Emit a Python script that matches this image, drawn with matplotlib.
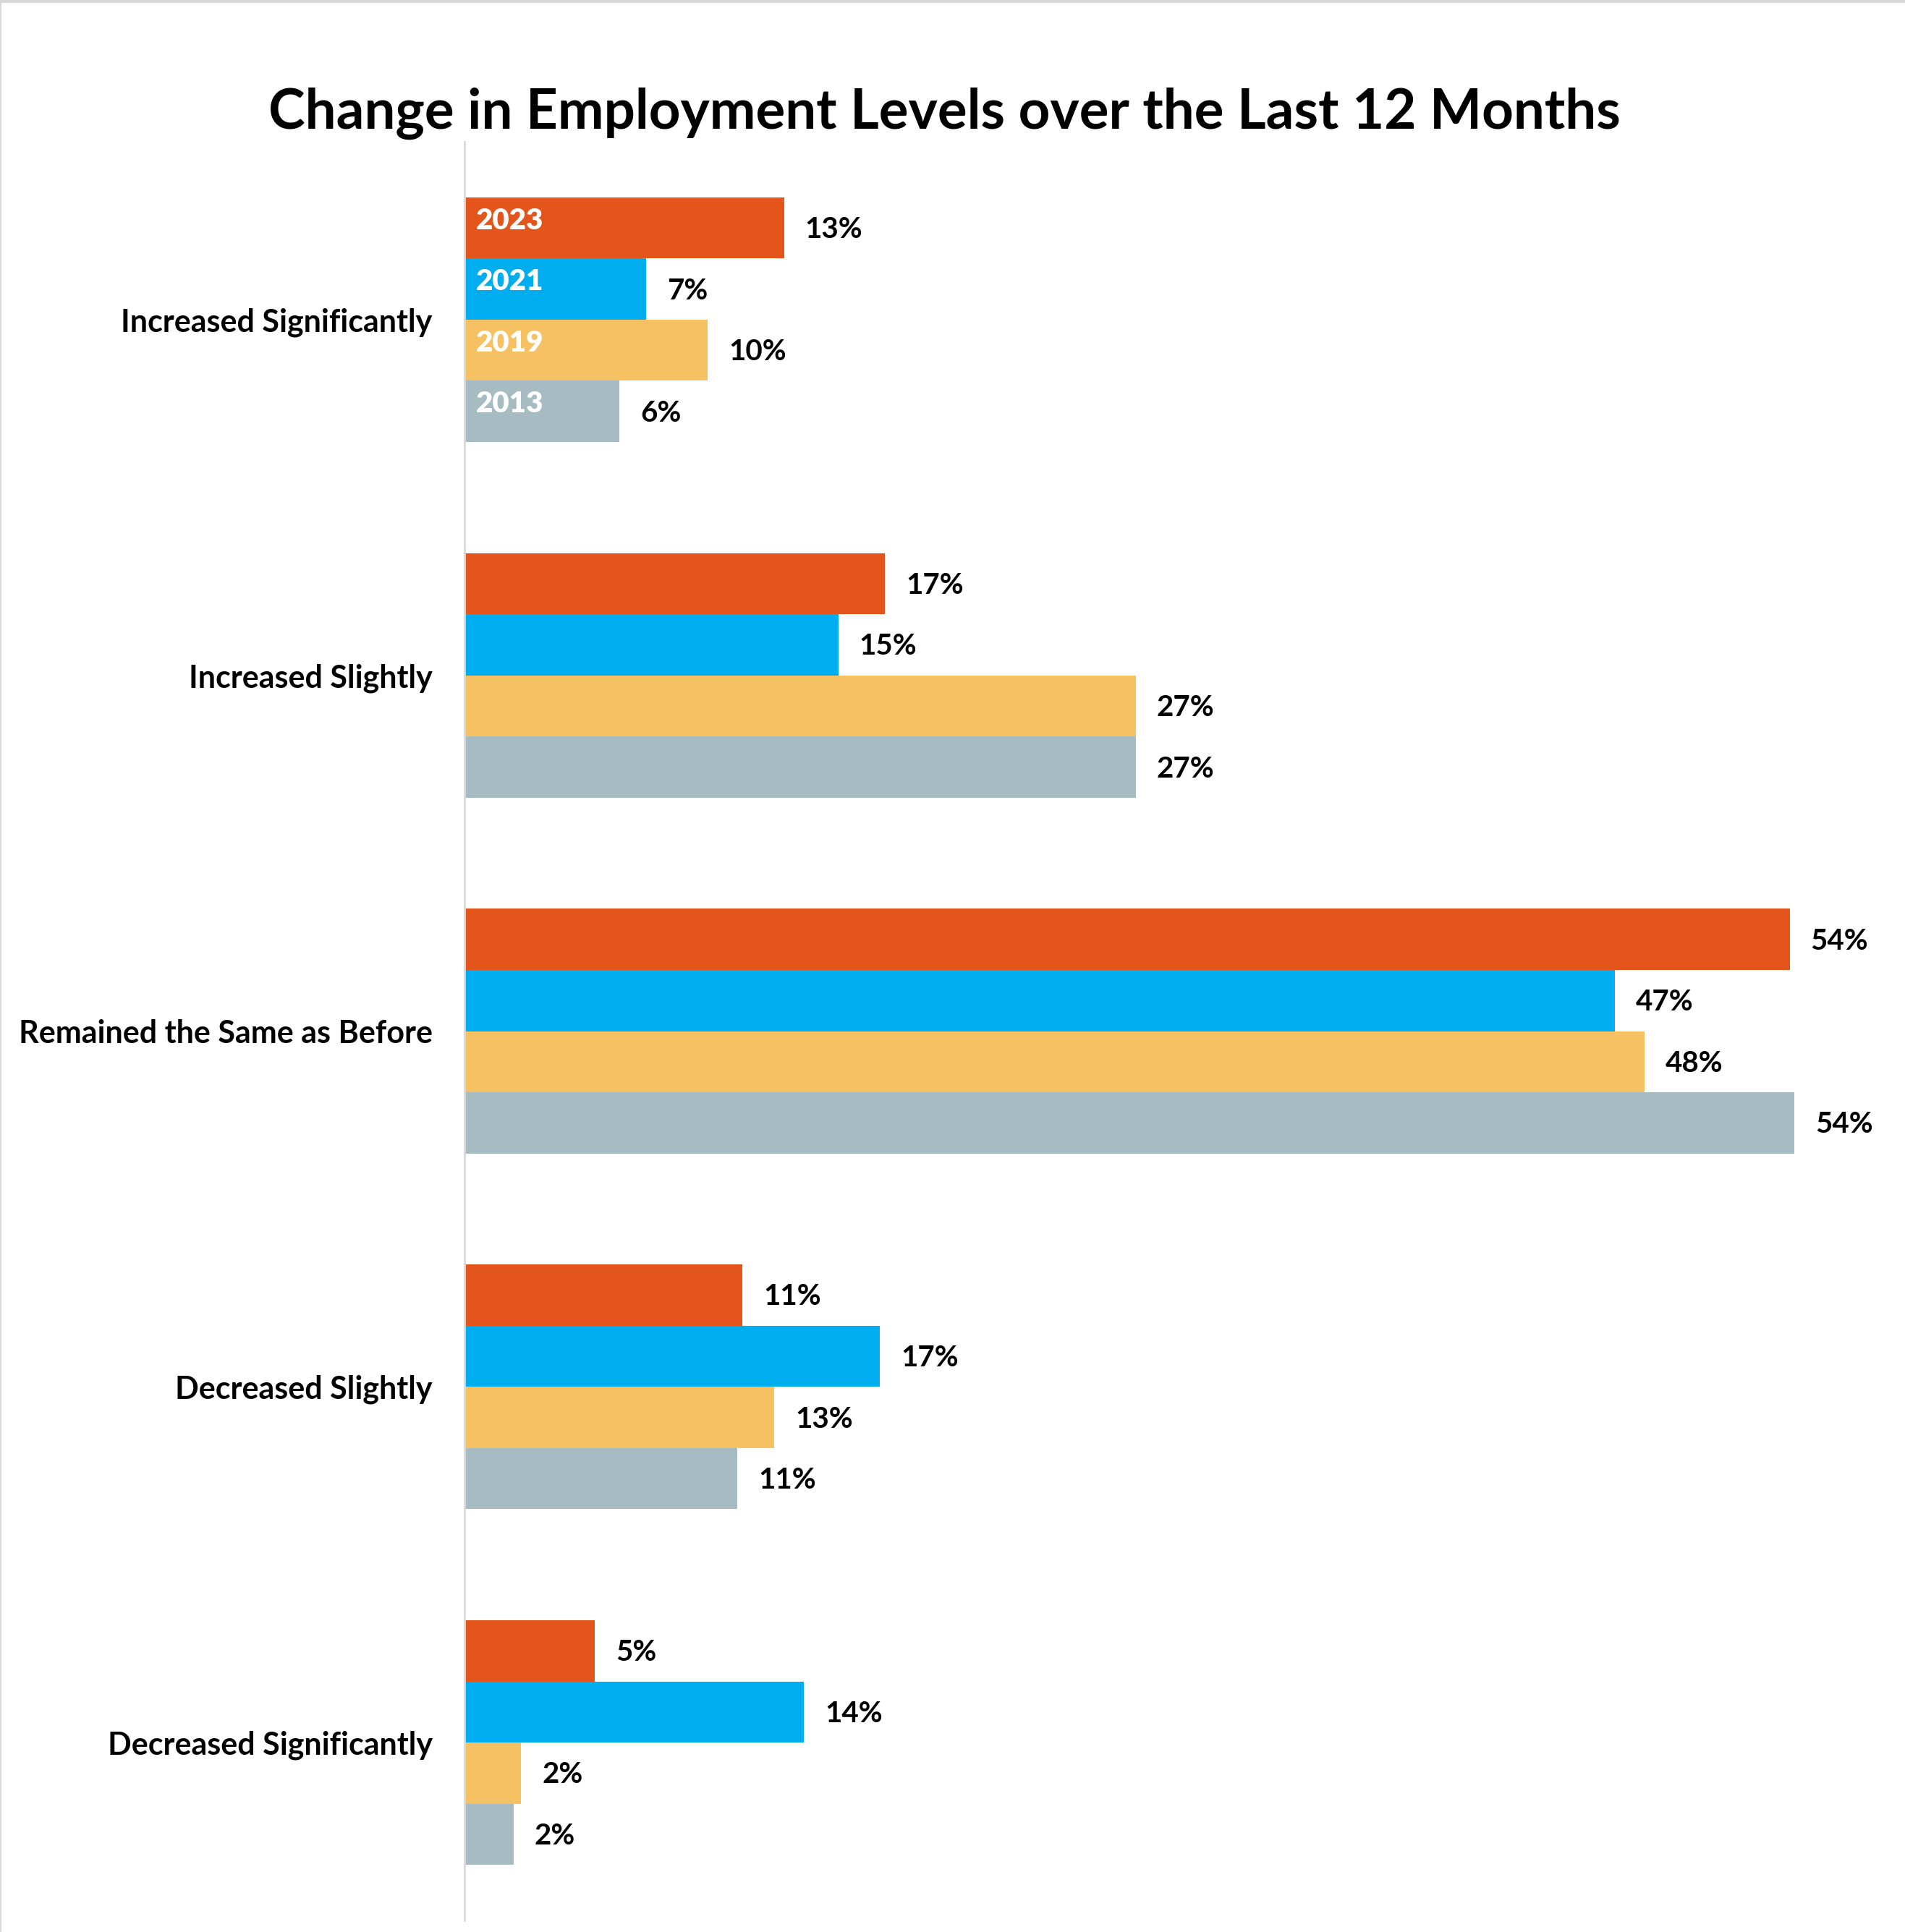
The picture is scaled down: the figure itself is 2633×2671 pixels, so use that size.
import matplotlib
matplotlib.use("Agg")
import matplotlib.pyplot as plt
from matplotlib.lines import Line2D
import numpy as np

plt.rcParams['font.family'] = ['Lato', 'DejaVu Sans']

title = "Change in Employment Levels over the Last 12 Months"
categories = ["Increased Significantly", "Increased Slightly", "Remained the Same as Before",
              "Decreased Slightly", "Decreased Significantly"]
series_names = ["2023", "2021", "2019", "2013"]
v2023 = [13.0, 17.1, 53.9, 11.3, 5.3]
v2021 = [7.4, 15.2, 46.8, 16.9, 13.8]
v2019 = [9.9, 27.3, 48.0, 12.6, 2.3]
v2013 = [6.3, 27.3, 54.1, 11.1, 2.0]
series_values = [v2023, v2021, v2019, v2013]
colors = ["#E3551A", "#00AEEF", "#F5C163", "#A7BCC2"]

W, H = 2633, 2671
fig = plt.figure(figsize=(W / 100, H / 100), dpi=100)
fig.patch.set_facecolor("white")

ax_left = 642 / W
ax_bottom = 1 - 2655 / H
ax_top = 1 - 196 / H
ax = fig.add_axes([ax_left, ax_bottom, 1971 / W, ax_top - ax_bottom])

n = len(categories)
bh = 0.172
y = np.arange(n)
for i, (name, vals, col) in enumerate(zip(series_names, series_values, colors)):
    ypos = y + (i - 1.5) * bh
    ax.barh(ypos, vals, height=bh, color=col, edgecolor='none', zorder=2)
    for yy, v in zip(ypos, vals):
        ax.text(v + 0.85, yy + 0.005, f"{round(v):.0f}%", ha='left', va='center',
                fontsize=29, fontweight='bold', color='black', clip_on=False)
    # series name inside the first group's bar
    ax.text(0.45, ypos[0] - 0.02, name, ha='left', va='center', fontsize=29,
            fontweight='heavy', color='white', zorder=3)

ax.set_xlim(0, 58)
ax.set_ylim(n - 0.5, -0.5)
ax.set_yticks(y)
ax.set_yticklabels(categories, fontsize=31, fontweight='bold')
ax.tick_params(axis='y', length=0, pad=32)
ax.set_xticks([])
for s in ['top', 'right', 'bottom']:
    ax.spines[s].set_visible(False)
ax.spines['left'].set_color('#D9D9D9')
ax.spines['left'].set_linewidth(2)
ax.set_facecolor('none')

fig.text(1305 / W, 1 - 157 / H, title, ha='center', va='center', fontsize=55,
         fontweight='bold', color='black')

# outer frame lines (top & left) as in the reference
fig.add_artist(Line2D([0, 1], [1 - 1.5 / H, 1 - 1.5 / H], color='#D9D9D9', linewidth=3,
                      transform=fig.transFigure))
fig.add_artist(Line2D([0.5 / W, 0.5 / W], [0, 1], color='#D9D9D9', linewidth=1.5,
                      transform=fig.transFigure))

fig.savefig("out.png", dpi=100, facecolor='white')
